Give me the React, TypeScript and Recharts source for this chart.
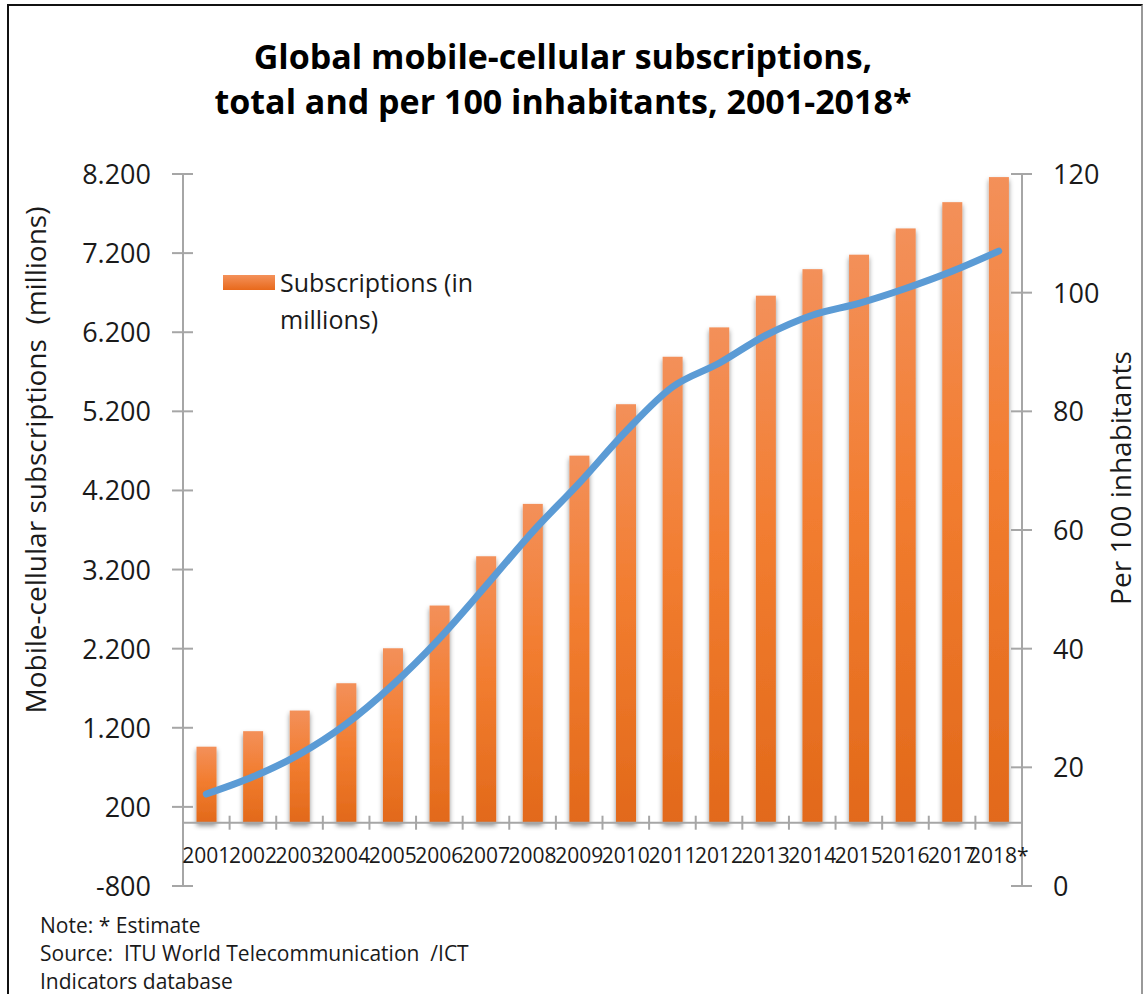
import {
  ComposedChart,
  Bar,
  Line,
  XAxis,
  YAxis,
  Legend,
  ReferenceLine,
} from "recharts";

const years = [
  "2001", "2002", "2003", "2004", "2005", "2006", "2007", "2008", "2009",
  "2010", "2011", "2012", "2013", "2014", "2015", "2016", "2017", "2018*",
];
// millions
const subscriptions = [
  961, 1157, 1418, 1763, 2205, 2745, 3368, 4030, 4640,
  5290, 5890, 6261, 6662, 6997, 7180, 7512, 7844, 8161,
];
const per100 = [
  15.5, 18.4, 22.2, 27.3, 33.9, 41.7, 50.6, 59.7, 67.9,
  76.6, 84.1, 88.1, 92.8, 96.2, 98.2, 100.7, 103.6, 107.0,
];
const leftTicks = [-800, 200, 1200, 2200, 3200, 4200, 5200, 6200, 7200, 8200];
const rightTicks = [0, 20, 40, 60, 80, 100, 120];

const data = years.map((year, i) => ({
  year,
  subs: subscriptions[i],
  per100: per100[i],
}));

const W = 1143;
const H = 994;
const PLOT_TOP = 174;
const PLOT_BOTTOM = 886;
const LEFT_W = 183;
const RIGHT_W = 121;
const X_AXIS_H = 30;
const LEFT_MIN = -800;
const LEFT_MAX = 8200;
const AXIS = "#a6a6a6";
const TEXT = "#1a1a1a";
const FONT = '"Open Sans", sans-serif';

// pixel row of the value 0 on the left axis (where the category axis sits)
const zeroY =
  PLOT_TOP + ((PLOT_BOTTOM - PLOT_TOP) * LEFT_MAX) / (LEFT_MAX - LEFT_MIN);
const step = (W - LEFT_W - RIGHT_W) / years.length;

const fmt = (v: number) =>
  v.toLocaleString("de-DE", { maximumFractionDigits: 0 });

function LeftTick({ x, y, payload }: any) {
  return (
    <g>
      <line x1={x - 11} x2={x + 10} y1={y} y2={y} stroke={AXIS} strokeWidth={2} />
      <text x={x - 32} y={y + 10} textAnchor="end" fontSize={27} fill={TEXT} fontFamily={FONT}>
        {fmt(payload.value)}
      </text>
    </g>
  );
}

function RightTick({ x, y, payload }: any) {
  return (
    <g>
      <line x1={x - 11} x2={x + 10} y1={y} y2={y} stroke={AXIS} strokeWidth={2} />
      <text x={x + 31} y={y + 10} textAnchor="start" fontSize={27} fill={TEXT} fontFamily={FONT}>
        {payload.value}
      </text>
    </g>
  );
}

function YearTick({ x, payload, index }: any) {
  return (
    <g>
      {index > 0 && (
        <line
          x1={x - step / 2}
          x2={x - step / 2}
          y1={zeroY - 7}
          y2={zeroY + 7}
          stroke={AXIS}
          strokeWidth={2}
        />
      )}
      <text x={x} y={zeroY + 40} textAnchor="middle" fontSize={21} fill={TEXT} fontFamily={FONT}>
        {payload.value}
      </text>
    </g>
  );
}

function AxisTitle({ cx, cy, text }: any) {
  return (
    <text
      x={cx}
      y={cy}
      transform={`rotate(-90, ${cx}, ${cy})`}
      textAnchor="middle"
      dominantBaseline="central"
      fontSize={28}
      fill={TEXT}
      fontFamily={FONT}
      style={{ whiteSpace: "pre" }}
    >
      {text}
    </text>
  );
}

function BarShape({ x, y, width, height }: any) {
  return (
    <rect
      x={x}
      y={y}
      width={width}
      height={height}
      fill="url(#barGrad)"
      filter="url(#barShadow)"
    />
  );
}

function LegendBox() {
  return (
    <div style={{ display: "flex", alignItems: "flex-start", fontFamily: FONT }}>
      <div
        style={{
          width: 52,
          height: 15,
          marginTop: 11,
          background: "linear-gradient(#f4915a, #e8691b)",
        }}
      />
      <div style={{ marginLeft: 5, fontSize: 25, lineHeight: "37px", color: TEXT }}>
        Subscriptions (in
        <br />
        millions)
      </div>
    </div>
  );
}

export default function App() {
  return (
    <div
      style={{
        position: "absolute",
        left: 0,
        top: 0,
        width: W,
        height: H,
        background: "#fff",
        overflow: "hidden",
        fontFamily: FONT,
      }}
    >
      <div
        style={{
          position: "absolute",
          left: 7,
          top: 4,
          width: 1132,
          height: 1000,
          borderLeft: "2px solid #111",
          borderTop: "2px solid #111",
          borderRight: "2px solid #999",
        }}
      />
      <div
        style={{
          position: "absolute",
          left: 0,
          top: 34,
          width: 1126,
          textAlign: "center",
          fontSize: 34,
          fontWeight: 700,
          lineHeight: "45px",
          color: "#000",
        }}
      >
        Global mobile-cellular subscriptions,
        <br />
        total and per 100 inhabitants, 2001-2018*
      </div>

      <ComposedChart
        width={W}
        height={H}
        data={data}
        margin={{ top: PLOT_TOP, right: 0, left: 0, bottom: H - PLOT_BOTTOM - X_AXIS_H }}
        barCategoryGap="29%"
        style={{ position: "absolute", left: 0, top: 0 }}
      >
        <defs>
          <linearGradient id="barGrad" x1="0" y1="0" x2="0" y2="1">
            <stop offset="0%" stopColor="#f3905a" />
            <stop offset="45%" stopColor="#f27d30" />
            <stop offset="100%" stopColor="#e2691a" />
          </linearGradient>
          <filter id="barShadow" x="-40%" y="-5%" width="180%" height="115%">
            <feDropShadow dx="0" dy="3" stdDeviation="2.5" floodColor="#000" floodOpacity="0.45" />
          </filter>
        </defs>
        <XAxis
          dataKey="year"
          height={X_AXIS_H}
          axisLine={false}
          tickLine={false}
          interval={0}
          tick={<YearTick />}
        />
        <YAxis
          yAxisId="left"
          orientation="left"
          width={LEFT_W}
          domain={[LEFT_MIN, LEFT_MAX]}
          ticks={leftTicks}
          interval={0}
          allowDataOverflow
          stroke={AXIS}
          strokeWidth={2}
          tickLine={false}
          tickSize={0}
          tickMargin={0}
          tick={<LeftTick />}
          label={<AxisTitle cx={35} cy={460} text="Mobile-cellular subscriptions  (millions)" />}
        />
        <YAxis
          yAxisId="right"
          orientation="right"
          width={RIGHT_W}
          domain={[0, 120]}
          ticks={rightTicks}
          interval={0}
          allowDataOverflow
          stroke={AXIS}
          strokeWidth={2}
          tickLine={false}
          tickSize={0}
          tickMargin={0}
          tick={<RightTick />}
          label={<AxisTitle cx={1120} cy={478} text="Per 100 inhabitants" />}
        />
        <ReferenceLine yAxisId="left" y={0} stroke={AXIS} strokeWidth={2} />
        <Legend
          layout="horizontal"
          verticalAlign="middle"
          align="center"
          content={<LegendBox />}
          wrapperStyle={{ left: 223, top: 264, width: 300, height: 80 }}
        />
        <Bar
          yAxisId="left"
          dataKey="subs"
          name="Subscriptions (in millions)"
          shape={<BarShape />}
          isAnimationActive={false}
        />
        <Line
          yAxisId="right"
          dataKey="per100"
          type="monotone"
          stroke="#5b9bd5"
          strokeWidth={7}
          strokeLinecap="round"
          dot={false}
          activeDot={false}
          legendType="none"
          isAnimationActive={false}
        />
      </ComposedChart>

      <div
        style={{
          position: "absolute",
          left: 40,
          top: 911,
          fontSize: 21,
          lineHeight: "28px",
          color: TEXT,
          whiteSpace: "pre",
        }}
      >
        {"Note: * Estimate\nSource:  ITU World Telecommunication  /ICT\nIndicators database"}
      </div>
    </div>
  );
}
